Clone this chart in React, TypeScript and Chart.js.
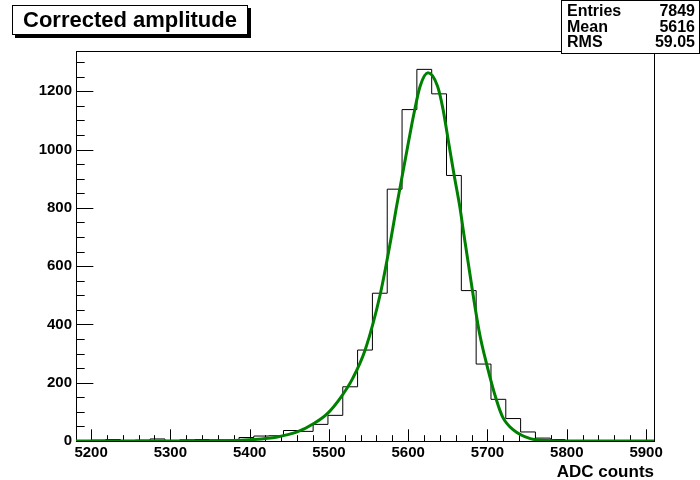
import React, { useEffect, useRef } from 'react';
import { Chart, registerables } from 'chart.js';

Chart.register(...registerables);

// Axis ranges
const X_MIN = 5181;
const X_MAX = 5910;
const Y_MAX = 1338;

// Histogram: counts per bin (39 equal bins from X_MIN to X_MAX)
const binCounts = [
  1, 3, 5, 2, 3, 7, 2, 4, 5, 4,
  4, 12, 17, 18, 36, 33, 57, 88, 186, 312,
  507, 864, 1137, 1275, 1191, 911, 516, 264, 143, 77,
  31, 10, 5, 1, 1, 0, 0, 1, 0,
];

// Fit curve, points
const fitX = [5181, 5300, 5371, 5405, 5435, 5460, 5481, 5498, 5515, 5530, 5546, 5565, 5578, 5585, 5601, 5607, 5615, 5625, 5637, 5644, 5651, 5658, 5665, 5670, 5681, 5690, 5699, 5711, 5719, 5733, 5754, 5775, 5800, 5910];
const fitY = [0, 0, 1, 5, 14, 31, 60, 94, 150, 215, 315, 507, 690, 800, 1035, 1120, 1217, 1263, 1217, 1137, 1023, 911, 805, 713, 516, 369, 263, 143, 83, 37, 8, 2, 0, 0];

const xTickStep = 100;
const yTickStep = 200;
const xMinorStep = 20;
const yMinorStep = 50;

const titleText = 'Corrected amplitude';
const xAxisTitle = 'ADC counts';
const statLabels = ['Entries', 'Mean', 'RMS'];
const statValues = ['7849', '5616', '59.05'];

const FONT = "'Liberation Sans', Arial, Helvetica, sans-serif";

export default function App() {
  const ref = useRef<HTMLCanvasElement>(null);

  useEffect(() => {
    if (!ref.current) return;
    const nb = binCounts.length;
    const bw = (X_MAX - X_MIN) / nb;
    const histData = binCounts.map((c, i) => ({ x: X_MIN + i * bw, y: c }));
    histData.push({ x: X_MAX, y: binCounts[nb - 1] });
    const fitData = fitX.map((x, i) => ({ x, y: fitY[i] }));

    const framePlugin = {
      id: 'rootFrame',
      beforeDatasetsDraw(chart: any) {
        const { ctx, chartArea: a, scales } = chart;
        const xs = scales.x;
        const ys = scales.y;
        ctx.save();
        ctx.strokeStyle = '#000';
        ctx.lineWidth = 1;
        ctx.beginPath();
        const xTickLen = 0.03 * (a.bottom - a.top);
        const yTickLen = 0.03 * (a.right - a.left);
        for (let v = Math.ceil(X_MIN / xMinorStep) * xMinorStep; v <= X_MAX; v += xMinorStep) {
          const px = Math.round(xs.getPixelForValue(v)) + 0.5;
          const len = v % xTickStep === 0 ? xTickLen : xTickLen / 2;
          ctx.moveTo(px, a.bottom);
          ctx.lineTo(px, a.bottom - len);
        }
        for (let v = 0; v <= Y_MAX; v += yMinorStep) {
          const py = Math.round(ys.getPixelForValue(v)) + 0.5;
          const len = v % yTickStep === 0 ? yTickLen : yTickLen / 2;
          ctx.moveTo(a.left, py);
          ctx.lineTo(a.left + len, py);
        }
        ctx.stroke();
        ctx.strokeRect(Math.round(a.left) + 0.5, Math.round(a.top) + 0.5,
          Math.round(a.right - a.left), Math.round(a.bottom - a.top));
        ctx.restore();
      },
      afterDraw(chart: any) {
        const { ctx } = chart;
        ctx.save();
        // Title box with shadow
        ctx.fillStyle = '#000';
        ctx.fillRect(15, 8, 236, 30);
        ctx.fillStyle = '#fff';
        ctx.fillRect(12, 5, 236, 30);
        ctx.strokeStyle = '#000';
        ctx.lineWidth = 1;
        ctx.strokeRect(12.5, 5.5, 235, 29);
        ctx.fillStyle = '#000';
        ctx.font = `bold 22px ${FONT}`;
        ctx.textAlign = 'center';
        ctx.textBaseline = 'alphabetic';
        ctx.fillText(titleText, 130, 27);
        // Stats box
        ctx.fillStyle = '#fff';
        ctx.fillRect(561, 0, 139, 54);
        ctx.strokeRect(561.5, 0.5, 138, 53);
        ctx.fillStyle = '#000';
        ctx.font = `bold 16px ${FONT}`;
        statLabels.forEach((lab, i) => {
          const y = 16 + i * 15.5;
          ctx.textAlign = 'left';
          ctx.fillText(lab, 567, y);
          ctx.textAlign = 'right';
          ctx.fillText(statValues[i], 695, y);
        });
        ctx.restore();
      },
    };

    const chart = new Chart(ref.current, {
      type: 'line',
      data: {
        datasets: [
          {
            label: 'fit',
            data: fitData,
            borderColor: '#008000',
            borderWidth: 3,
            pointRadius: 0,
            fill: false,
            cubicInterpolationMode: 'monotone',
          },
          {
            label: 'hist',
            data: histData,
            borderColor: '#000',
            borderWidth: 1,
            pointRadius: 0,
            fill: false,
            stepped: 'before',
          },
        ],
      },
      options: {
        animation: false,
        responsive: false,
        events: [],
        layout: { padding: { top: 51, right: 46, bottom: 0, left: 0 } },
        plugins: {
          legend: { display: false },
          tooltip: { enabled: false },
          title: { display: false },
        },
        scales: {
          x: {
            type: 'linear',
            min: X_MIN,
            max: X_MAX,
            grid: { display: false, drawTicks: false },
            border: { display: false },
            ticks: {
              stepSize: xTickStep,
              includeBounds: false,
              autoSkip: false,
              maxRotation: 0,
              padding: 3,
              color: '#000',
              font: { family: FONT, size: 15, weight: 'bold' },
              callback: (v: any) => String(v),
            },
            title: {
              display: true,
              text: xAxisTitle,
              align: 'end',
              color: '#000',
              padding: { top: 0, bottom: -3 },
              font: { family: FONT, size: 17, weight: 'bold' },
            },
            afterFit: (s: any) => { s.height = 39; },
          },
          y: {
            type: 'linear',
            min: 0,
            max: Y_MAX,
            grid: { display: false, drawTicks: false },
            border: { display: false },
            ticks: {
              stepSize: yTickStep,
              includeBounds: false,
              autoSkip: false,
              padding: 4,
              color: '#000',
              font: { family: FONT, size: 15, weight: 'bold' },
              callback: (v: any) => String(v),
            },
            afterFit: (s: any) => { s.width = 76; },
          },
        },
      },
      plugins: [framePlugin],
    } as any);

    return () => chart.destroy();
  }, []);

  return (
    <div style={{ position: 'fixed', left: 0, top: 0, width: 700, height: 480, background: '#fff' }}>
      <canvas ref={ref} width={700} height={480} />
    </div>
  );
}
